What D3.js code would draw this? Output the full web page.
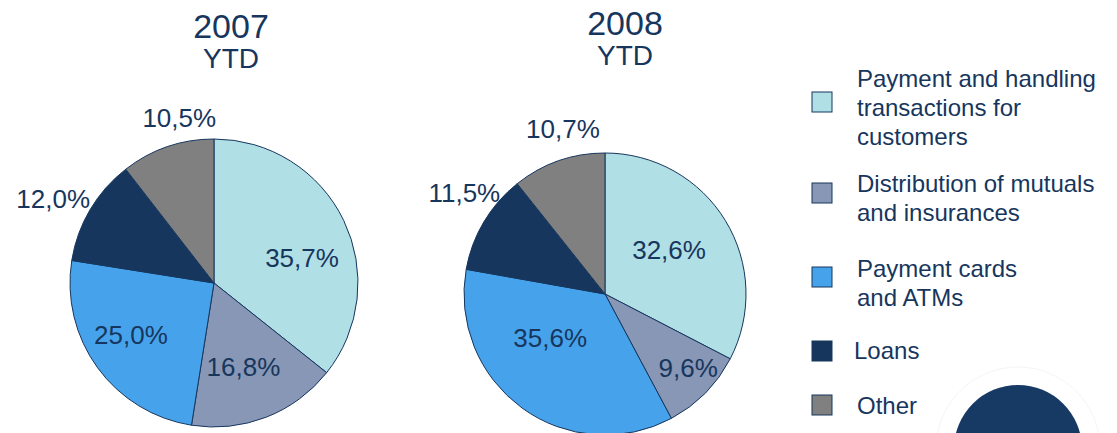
<!DOCTYPE html>
<html>
<head>
<meta charset="utf-8">
<script src="https://cdn.jsdelivr.net/npm/d3@7"></script>
<style>
  body { margin: 0; background: #fff; }
  svg { display: block; font-family: 'Liberation Sans', Arial, sans-serif; }
</style>
</head>
<body>
<svg class="pies" width="1117" height="433"></svg>
<script>
const categories = [
    'Payment and handling transactions for customers',
    'Distribution of mutuals and insurances',
    'Payment cards and ATMs',
    'Loans',
    'Other'
];
const legendLines = [
    ['Payment and handling', 'transactions for', 'customers'],
    ['Distribution of mutuals', 'and insurances'],
    ['Payment cards', 'and ATMs'],
    ['Loans'],
    ['Other']
];
const years = ['2007', '2008'];
const values2007 = [35.7, 16.8, 25.0, 12.0, 10.5];
const values2008 = [32.6, 9.6, 35.6, 11.5, 10.7];

const svg = d3.select('.pies');
const textColor = '#17365d';

const color = d3.scaleOrdinal()
    .domain(categories)
    .range(['#b0dfe5', '#8797b5', '#46a3eb', '#17365d', '#808080']);

// layout of each pie: centre, radius, title spot and label tweaks (radius factor, angle shift in degrees)
const charts = [
    { year: years[0], values: values2007, cx: 214, cy: 283, r: 144, tx: 231, ty: 38,
      labelR: [0.635, 0.62, 0.68, 1.26, 1.17], labelA: [10, 2, 4, -3, 7] },
    { year: years[1], values: values2008, cx: 605, cy: 294, r: 141, tx: 625, ty: 35,
      labelR: [0.55, 0.79, 0.50, 1.23, 1.21], labelA: [-3, -3, 15, 5, 5] }
];

const pie = d3.pie().sort(null).value(d => d.value);
const fmt = v => d3.format('.1f')(v).replace('.', ',') + '%';

charts.forEach(c => {
    const g = svg.append('g')
        .attr('transform', `translate(${c.cx},${c.cy})`);

    const arcs = pie(categories.map((key, i) => ({ key, value: c.values[i] })));
    const arc = d3.arc().innerRadius(0).outerRadius(c.r);

    g.selectAll('path')
        .data(arcs)
        .join('path')
        .attr('d', arc)
        .attr('fill', d => color(d.data.key))
        .attr('stroke', textColor)
        .attr('stroke-width', 1);

    g.selectAll('text.lbl')
        .data(arcs)
        .join('text')
        .attr('class', 'lbl')
        .attr('transform', (d, i) => {
            const a = (d.startAngle + d.endAngle) / 2 + c.labelA[i] * Math.PI / 180;
            const rr = c.r * c.labelR[i];
            return `translate(${rr * Math.sin(a)},${-rr * Math.cos(a)})`;
        })
        .attr('text-anchor', 'middle')
        .attr('dy', '0.35em')
        .style('font-size', '26px')
        .attr('fill', textColor)
        .text(d => fmt(d.data.value));

    svg.append('text')
        .attr('x', c.tx)
        .attr('y', c.ty)
        .attr('text-anchor', 'middle')
        .style('font-size', '34px')
        .attr('fill', textColor)
        .text(c.year);

    svg.append('text')
        .attr('x', c.tx)
        .attr('y', c.ty + 30)
        .attr('text-anchor', 'middle')
        .style('font-size', '28px')
        .attr('fill', textColor)
        .text('YTD');
});

// legend
const boxY = [92, 183, 267, 341, 395];
const textY = [87, 192, 277, 359, 414];
const textX = [857, 857, 857, 854, 857];

const legend = svg.append('g');
legend.selectAll('rect')
    .data(categories)
    .join('rect')
    .attr('x', 812)
    .attr('y', (d, i) => boxY[i])
    .attr('width', 20)
    .attr('height', 20)
    .attr('fill', d => color(d))
    .attr('stroke', textColor)
    .attr('stroke-width', 1);

legend.selectAll('text')
    .data(legendLines)
    .join('text')
    .attr('y', (d, i) => textY[i])
    .style('font-size', '24px')
    .attr('fill', textColor)
    .each(function (lines, i) {
        d3.select(this).selectAll('tspan')
            .data(lines)
            .join('tspan')
            .attr('x', textX[i])
            .attr('dy', (d, j) => j === 0 ? 0 : 29)
            .text(d => d);
    });

// decorative disc bottom right
svg.append('circle')
    .attr('cx', 1018)
    .attr('cy', 449)
    .attr('r', 82)
    .attr('fill', 'none')
    .attr('stroke', '#f5f5f5')
    .attr('stroke-width', 1);
svg.append('circle')
    .attr('cx', 1018)
    .attr('cy', 449)
    .attr('r', 64)
    .attr('fill', '#173a65');
</script>
</body>
</html>
